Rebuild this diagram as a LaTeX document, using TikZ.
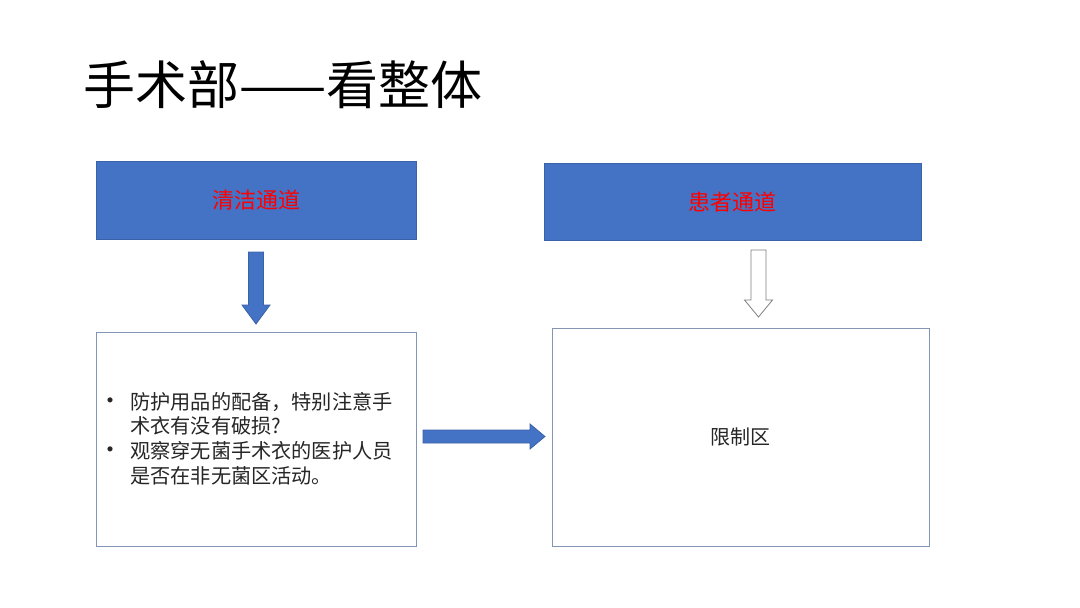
\documentclass[tikz,border=0pt]{standalone}
\usepackage{fontspec}
\setmainfont{Noto Sans CJK SC}
\definecolor{pblue}{HTML}{4472C4}
\definecolor{pblueedge}{HTML}{3A62A8}
\definecolor{boxedge}{HTML}{8296B4}
\definecolor{arrgray}{HTML}{7F7F7F}
\definecolor{txtred}{HTML}{FF0000}
\definecolor{txtdark}{HTML}{262626}
\begin{document}
\begin{tikzpicture}[x=1pt,y=-1pt,
  headbox/.style={draw=pblueedge,line width=0.8pt,fill=pblue,inner sep=0pt,anchor=north west,
    font=\fontsize{22}{26}\selectfont,text=txtred},
  contentbox/.style={draw=boxedge,line width=0.8pt,fill=white,inner sep=0pt,anchor=north west},
  solidarrow/.style={draw=pblueedge,line width=0.8pt,fill=pblue},
  hollowarrow/.style={draw=arrgray,line width=0.8pt,fill=white}]
\useasboundingbox[fill=white] (0,0) rectangle (1080,608);
% title
\node[anchor=base west,inner sep=0pt,text=black,font=\fontsize{52}{58}\selectfont] (title) at (83,104) {手术部——看整体};
% header boxes
\node[headbox,minimum width=320pt,minimum height=78pt] (clean) at (96,161) {清洁通道};
\node[headbox,minimum width=377pt,minimum height=77pt] (patient) at (544,163) {患者通道};
% content boxes
\node[contentbox,minimum width=320pt,minimum height=214pt] (left) at (96,332) {};
\node[contentbox,minimum width=377pt,minimum height=218pt] (right) at (552,328) {};
% left text
\node[anchor=north west,inner sep=0pt,text=txtdark,font=\fontsize{20.2}{24.6}\selectfont,align=left] (ltext) at (130,392)
  {防护用品的配备，特别注意手\\术衣有没有破损?\\观察穿无菌手术衣的医护人员\\是否在非无菌区活动。};
\node[anchor=base,inner sep=0pt,text=txtdark,font=\fontsize{24}{28}\selectfont] (b1) at (110,409) {•};
\node[anchor=base,inner sep=0pt,text=txtdark,font=\fontsize{24}{28}\selectfont] (b2) at (110,458) {•};
% right text
\node[inner sep=0pt,text=txtdark,font=\fontsize{20}{24}\selectfont] (rtext) at (740,437) {限制区};
% down arrow (solid): shaft 249-264, y 252-305, head 242-270, tip 324
\coordinate (s1) at (256,252);
\coordinate (t1) at (256,324);
\draw[solidarrow] (s1) ++(-7.5,0) -- ++(15,0) -- ++(0,53) -- ++(6.5,0) -- (t1)
  -- ++(-14,-19) -- ++(6.5,0) -- cycle;
% down arrow (hollow): shaft 751-766, y 250-300, head 745-773, tip 317
\coordinate (s2) at (758.5,250);
\coordinate (t2) at (758.5,317);
\draw[hollowarrow] (s2) ++(-7.5,0) -- ++(15,0) -- ++(0,50) -- ++(6.5,0) -- (t2)
  -- ++(-14,-17) -- ++(6.5,0) -- cycle;
% right arrow: shaft y 430-443, x 423-530; head 424-449; tip 545
\coordinate (s3) at (423,436.5);
\coordinate (t3) at (545,436.5);
\draw[solidarrow] (s3) ++(0,-6.5) -- (530,430) -- (530,424) -- (t3) -- (530,449) -- (530,443) -- (423,443) -- cycle;
\end{tikzpicture}
\end{document}
